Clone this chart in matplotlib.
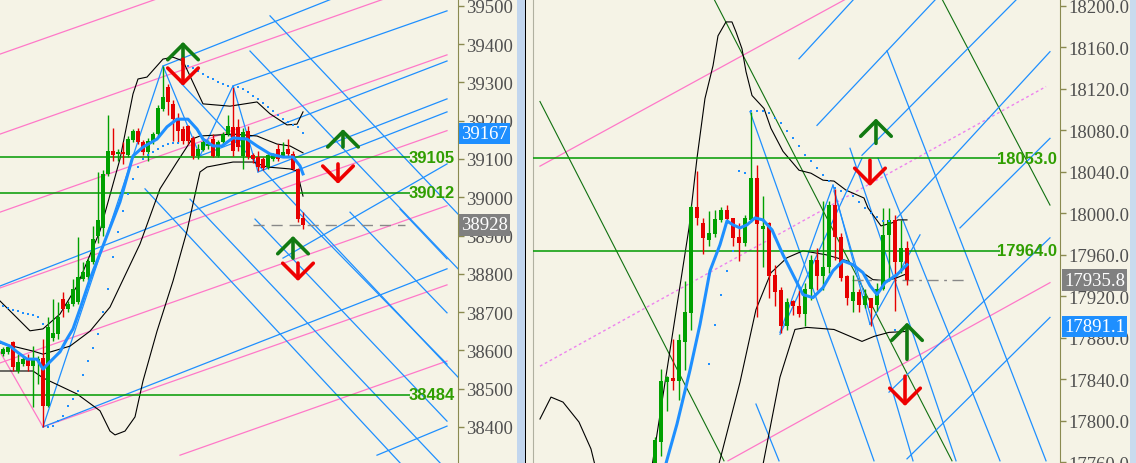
import matplotlib.pyplot as plt
import numpy as np
from matplotlib.patches import Rectangle

# ---------------- left panel (index futures, 5px per bar) ----------------
l_open = [38591, 38596, 38622, 38546, 38565, 38580, 38559, 38572, 38580, 38455,
          38632, 38643, 38734, 38708, 38721, 38727, 38787, 38792, 38831, 38899,
          38920, 39061, 39121, 39113, 39119, 39111, 39150, 39173, 39145, 39119,
          39145, 39166, 39231, 39288, 39244, 39205, 39179, 39186, 39155, 39108,
          39124, 39135, 39152, 39108, 39145, 39166, 39184, 39184, 39108, 39173,
          39111, 39105, 39100, 39079, 39100, 39126, 39108, 39126, 39113, 39074, 38946]
l_high = [38609, 38612, 38625, 38591, 38585, 38591, 38612, 38585, 38630, 38687,
          38734, 38727, 38753, 38730, 38787, 38896, 38830, 38840, 38925, 39066,
          39070, 39215, 39181, 39126, 39145, 39160, 39178, 39180, 39150, 39155,
          39170, 39240, 39343, 39295, 39255, 39220, 39185, 39190, 39160, 39140,
          39150, 39150, 39166, 39150, 39170, 39215, 39291, 39205, 39180, 39186,
          39115, 39121, 39105, 39115, 39115, 39140, 39145, 39152, 39120, 39077, 38962]
l_low = [38585, 38591, 38546, 38540, 38559, 38546, 38452, 38512, 38400, 38452,
         38625, 38630, 38687, 38700, 38715, 38720, 38780, 38785, 38825, 38880,
         38900, 39055, 39095, 39095, 39087, 39105, 39145, 39140, 39110, 39095,
         39140, 39160, 39225, 39215, 39147, 39145, 39140, 39140, 39100, 39100,
         39120, 39125, 39105, 39105, 39140, 39160, 39108, 39121, 39074, 39100,
         39090, 39069, 39070, 39075, 39095, 39095, 39105, 39108, 39070, 38935, 38917]
l_close = [38604, 38609, 38557, 38570, 38578, 38559, 38575, 38578, 38455, 38660,
           38645, 38687, 38708, 38721, 38760, 38792, 38805, 38834, 38891, 38941,
           39061, 39121, 39111, 39119, 39113, 39152, 39173, 39145, 39119, 39147,
           39166, 39233, 39262, 39249, 39205, 39173, 39147, 39147, 39108, 39126,
           39145, 39140, 39108, 39145, 39166, 39186, 39121, 39132, 39171, 39105,
           39100, 39079, 39077, 39111, 39111, 39100, 39119, 39113, 39074, 38943, 38928]

l_ema_x = [-0.6, 1.4, 2.8, 4.8, 6.8, 8, 9.4, 11.4, 12.8, 14, 15.4, 17.4, 20, 23.4, 26, 28,
           30.8, 32.8, 34.8, 37, 38.8, 40, 42, 43.8, 46, 48.8, 50.8, 53.4, 56, 58, 59.4, 60]
l_ema = [38622, 38611, 38596, 38577, 38577, 38551, 38570, 38596, 38630, 38656, 38708,
         38786, 38873, 38988, 39108, 39131, 39152, 39184, 39204, 39204, 39178, 39152,
         39134, 39134, 39155, 39152, 39134, 39113, 39105, 39105, 39082, 39061]

l_bb_up_x = [-0.6, 5.4, 8, 11.4, 14.8, 19.4, 23.4, 26, 27, 28.8, 32, 34, 36, 40, 45.4,
             50.8, 53.4, 56.8, 58.8, 60]
l_bb_up = [38729, 38651, 38656, 38695, 38768, 38912, 39100, 39270, 39309, 39314, 39361,
           39366, 39356, 39244, 39238, 39249, 39218, 39189, 39191, 39223]
l_bb_mid_x = [-0.6, 6, 8, 13.4, 17.4, 21.4, 27.4, 31.4, 34.8, 37.8, 39.4, 46, 50.8,
              54.8, 57.4, 60]
l_bb_mid = [38619, 38598, 38590, 38611, 38650, 38713, 38878, 39022, 39092, 39152, 39160,
            39165, 39160, 39139, 39134, 39116]
l_bb_low_x = [-0.6, 6, 8, 14.8, 19.4, 21.4, 22.4, 24.4, 26.4, 28, 30.8, 34, 36.8, 39.4,
              40.8, 46, 50, 52.8, 57.4, 58.8, 60]
l_bb_low = [38546, 38546, 38528, 38486, 38442, 38389, 38379, 38389, 38426, 38520, 38650,
            38781, 38912, 39066, 39079, 39092, 39092, 39079, 39074, 39069, 39003]

l_sar_x = list(range(0, 36)) + list(range(36, 61))
l_sar = [38716, 38711, 38705, 38703, 38698, 38695, 38693, 38687, 38669,
         38400, 38402, 38415, 38428, 38454, 38473, 38494, 38536, 38572, 38606, 38643,
         38700, 38760, 38844, 38909, 38964, 39008, 39048, 39079, 39100, 39110, 39118,
         39126, 39133, 39138, 39141, 39143,
         39348, 39343, 39338, 39330, 39322, 39314, 39309, 39301, 39296, 39291, 39288,
         39288, 39283, 39275, 39265, 39257, 39246, 39236, 39225, 39215, 39204, 39197,
         39189, 39184, 39168]

l_levels = [39105, 39012, 38484]
l_last = 38928
l_tag = 39167

l_zig_x = [8, 32, 39.4, 46, 51]
l_zig = [38400, 39343, 39108, 39291, 39066]
l_blue_segs = [(-0.6, 38768, 88.8, 39223), (8, 38400, 88.8, 38813), (32, 39343, 91, 39649),
               (46, 39291, 88.8, 39487), (39.4, 39108, 88.8, 39356), (51, 39066, 88.8, 39257),
               (56, 38841, 88.8, 39087), (74.8, 38326, 88.8, 38402),
               (35.4, 39301, 91, 38530), (49.4, 39382, 91, 38813), (53.4, 39474, 91, 38956),
               (28.4, 39022, 79.4, 38306), (37.4, 38995, 87.4, 38306), (50.4, 38943, 88.8, 38415),
               (59.4, 38956, 88.8, 38564), (69.4, 38961, 88.8, 38698), (79.4, 38969, 88.8, 38839)]
l_pink_segs = [(-0.6, 38596, 8, 38400),
               (-0.6, 39374, 88.8, 39785), (-0.6, 39165, 88.8, 39576), (-0.6, 38961, 88.8, 39372),
               (-0.6, 38763, 88.8, 39174), (-0.6, 38567, 88.8, 38978),
               (8, 38400, 88.8, 38771), (35.4, 38326, 88.8, 38572)]
# arrows: (bar, tail, head)
l_up_arrows = [(36, 39348, 39406), (68, 39131, 39178), (58, 38841, 38899)]
l_dn_arrows = [(36, 39361, 39291), (67, 39087, 39035), (59, 38828, 38781)]

# ---------------- right panel (6px per bar) ----------------
r_open = [17750, 17780, 17838, 17841, 17839, 17876, 17904, 18006, 17991, 17974, 17980,
          17994, 18003, 17996, 17977, 17972, 17994, 18034, 17985, 17991, 17941, 17926,
          17892, 17916, 17911, 17903, 17927, 17955, 17940, 17948, 18008, 17977, 17940,
          17916, 17924, 17912, 17919, 17912, 17927, 17979, 17994, 17953, 17967]
r_high = [17785, 17850, 17843, 17879, 17884, 17935, 18008, 18041, 17996, 18002, 18003,
          18006, 18008, 17996, 17991, 17999, 18098, 18047, 18017, 17992, 17950, 17929,
          17919, 17917, 17926, 17933, 17960, 17967, 18012, 18012, 18024, 17981, 17941,
          17941, 17927, 17927, 17919, 17933, 18005, 18005, 17999, 17994, 17973]
r_low = [17740, 17766, 17810, 17830, 17820, 17849, 17888, 17989, 17961, 17969, 17977,
         17992, 17991, 17969, 17954, 17969, 17992, 17900, 17948, 17919, 17911, 17885,
         17888, 17902, 17900, 17892, 17917, 17926, 17926, 17943, 17955, 17935, 17912,
         17905, 17905, 17909, 17892, 17906, 17926, 17935, 17906, 17943, 17931]
r_close = [17782, 17839, 17842, 17839, 17878, 17905, 18006, 17996, 17976, 17981, 17995,
           18003, 17995, 17976, 17972, 17996, 18034, 17990, 17988, 17940, 17924, 17892,
           17915, 17911, 17903, 17927, 17955, 17940, 17948, 18008, 17977, 17938, 17919,
           17924, 17912, 17920, 17909, 17927, 17979, 17994, 17953, 17967, 17935.8]

r_ema_x = [1.2, 2, 3.67, 5.83, 7.5, 9.17, 10.83, 12, 13, 14.17, 15.33, 16.67, 18, 19.5,
           21.33, 23, 24.67, 26.33, 28, 29.67, 31.33, 33, 34.67, 35.83, 37, 38.33, 40.33, 42]
r_ema = [17745, 17762.6, 17797.1, 17848.9, 17893.0, 17944.8, 17969.8, 17992.8, 17989.0,
         17986.1, 17989.0, 17995.7, 17993.8, 17984.2, 17960.2, 17941.0, 17921.8, 17918.9,
         17928.5, 17944.8, 17954.4, 17950.6, 17942.9, 17930.5, 17921.8, 17933.3, 17941.0,
         17950.6]

r_bb_up_x = [-0.8, 5.67, 7, 8.33, 9.67, 10.5, 11.83, 12.83, 13.5, 14.5, 15.17, 16.17,
             18.17, 19.33, 21.33, 24, 26, 28, 29.83, 31.83, 34.83, 35.5, 37.67, 39.5, 40.5, 42]
r_bb_up = [17745, 17986.1, 18053.2, 18110.8, 18142.4, 18171.2, 18184.6, 18184.6, 18175.0,
           18158.7, 18136.7, 18113.7, 18101.2, 18082.0, 18059.9, 18041.7, 18038.8, 18032.1,
           18031.2, 18022.5, 18014.9, 18005.3, 17988.0, 17990.9, 17993.8, 17993.8]
r_bb_mid_x = [10.5, 14.17, 16.83, 19.33, 22, 24.67, 28.5, 32, 34.17, 36.33, 38.67, 40.33, 42]
r_bb_mid = [17755, 17837.4, 17907.4, 17942.9, 17957.3, 17964.0, 17960.2, 17954.4, 17944.8,
            17936.2, 17935.2, 17938.1, 17942.0]
r_bb_low_x = [17.9, 20.83, 23.33, 25.33, 29.83, 34.5, 36.5, 39, 42]
r_bb_low = [17755, 17842.2, 17888.2, 17890.2, 17888.2, 17876.7, 17881.5, 17885.4, 17886.3]
r_old_x = [-19.17, -17.33, -15.33, -12.67, -10.67, -9.9]
r_old = [17801.9, 17823.0, 17818.2, 17799.0, 17773.1, 17755]

r_sar_x = list(range(9, 42))
r_sar = [17854.7, 17892.1, 17921.8, 17944.8, 17964.0, 18040.8, 18038.8, 18098.3, 18098.3,
         18098.3, 18096.4, 18091.6, 18086.8, 18079.1, 18072.4, 18064.7, 18056.1, 18050.3,
         18043.6, 18036.9, 18031.2, 18024.4, 18021.6, 18021.6, 18016.8, 18011.0, 18005.3,
         18000.5, 17996.6, 17992.8, 17992.8, 17887.3, 17887.3]

r_levels = [18053.0, 17964.0]
r_last = 17935.8
r_tag = 17891.1

r_blue_segs = [(24, 18149.1, 33.17, 18206.7), (27, 18084.9, 46.83, 18206.7),
               (34.5, 18056.1, 60.33, 18206.7), (40.33, 17995.7, 65.83, 18155.9),
               (50.83, 17986.1, 65.83, 18072.4), (39, 17827.8, 65.83, 17976.5),
               (42, 17763.5, 65.83, 17899.8),
               (20.83, 17885.4, 29.67, 18027.3), (29.67, 18027.3, 35.83, 17893.1),
               (35.83, 17893.1, 44.17, 17979.4), (34.5, 18053.2, 20.83, 17883.5),
               (15.83, 18098.3, 36.5, 17761.6), (38.67, 18156.8, 65.17, 17761.6),
               (32.5, 18062.8, 50.17, 17761.6), (29.83, 18021.6, 43, 17761.6),
               (16.83, 17816.3, 20.67, 17761.6), (37.17, 18053.2, 57.5, 17761.6)]
r_pink_segs = [(-19.17, 18045.6, 31.83, 18206.7), (12.17, 17761.6, 65.83, 17933.3)]
r_pink_dot = (-19.17, 17852.8, 65.17, 18122.3)
r_green_segs = [(-19.17, 18107.9, 11.5, 17761.6), (9.83, 18206.7, 49.5, 17761.6),
                (47.83, 18206.7, 65.83, 18008.1)]
r_up_arrows = [(36.83, 18067.6, 18091.6), (42, 17859.5, 17894.9)]
r_dn_arrows = [(35.83, 18051.3, 18026.4), (41.67, 17843.2, 17814.4)]

# ---------------- drawing ----------------
BG = '#f5f3e6'
UP = '#00a000'
DN = '#e60000'
BLUE = '#1e8fff'
PINK = '#ff78c8'
LVL = '#009900'
AXC = '#8a8a50'
W, H = 1136, 464

plt.rcParams['font.family'] = ['Liberation Serif', 'DejaVu Serif']

fig = plt.figure(figsize=(W / 100, H / 100), dpi=100, facecolor=BG)
axL = fig.add_axes([0, 0, 458 / W, 1])
axR = fig.add_axes([533 / W, 0, (1060 - 533) / W, 1])


def candles(ax, o, h, l, c, width):
    x = np.arange(len(o))
    o, h, l, c = map(np.asarray, (o, h, l, c))
    col = np.where(c > o, UP, DN)
    ax.vlines(x, l, h, colors=col, lw=1.0, zorder=4)
    span = ax.get_ylim()[1] - ax.get_ylim()[0]
    ax.bar(x, np.maximum(np.abs(c - o), span * 0.004), width, np.minimum(o, c),
           color=col, lw=0, zorder=5)


def segs(ax, lines, color, lw=0.9, ls='-'):
    for x1, y1, x2, y2 in lines:
        ax.plot([x1, x2], [y1, y2], color=color, lw=lw, ls=ls, zorder=2)


def frame(ax, xlim, ylim, ticks, fmt):
    ax.set_facecolor(BG)
    ax.set_xlim(*xlim)
    ax.set_ylim(*ylim)
    ax.set_xticks([])
    ax.yaxis.tick_right()
    ax.set_yticks(ticks)
    ax.set_yticklabels([fmt.format(t) for t in ticks], fontsize=13.5, color='#505050')
    ax.tick_params(axis='y', direction='out', length=4, width=1, color=AXC, pad=2)
    for s in ['top', 'bottom', 'left']:
        ax.spines[s].set_visible(False)
    ax.spines['right'].set_color(AXC)


def arrows(ax, ups, dns):
    for lst, col in ((ups, '#117a11'), (dns, '#ee0000')):
        for x, tail, head in lst:
            ax.annotate('', xy=(x, head), xytext=(x, tail),
                        arrowprops=dict(arrowstyle='->,head_length=0.55,head_width=0.55',
                                        lw=2.6, color=col, mutation_scale=20,
                                        shrinkA=0, shrinkB=0), zorder=8)


def tag(ax, y, text, fc, xoff):
    ax.text(1 + xoff, y, text, transform=ax.get_yaxis_transform(), ha='left', va='center',
            fontsize=13.5, color='white', zorder=10, clip_on=False,
            bbox=dict(boxstyle='square,pad=0.12', fc=fc, ec='none'))


# left
frame(axL, (-0.6, 91), (38305.6, 39518), np.arange(38400, 39501, 100), '{:.0f}')
candles(axL, l_open, l_high, l_low, l_close, 0.62)
segs(axL, l_pink_segs, PINK)
segs(axL, l_blue_segs, BLUE)
axL.plot(l_zig_x, l_zig, color=BLUE, lw=0.9, zorder=2)
axL.plot(l_bb_up_x, l_bb_up, color='black', lw=0.8, zorder=3)
axL.plot(l_bb_mid_x, l_bb_mid, color='black', lw=0.8, zorder=3)
axL.plot(l_bb_low_x, l_bb_low, color='black', lw=0.8, zorder=3)
axL.plot(l_ema_x, l_ema, color=BLUE, lw=2.2, zorder=6)
axL.plot(l_sar_x, l_sar, 's', color=BLUE, ms=2, mew=0, zorder=6)
axL.hlines(l_levels, -0.6, 81.4, color=LVL, lw=1.1, zorder=3)
for v in l_levels:
    axL.text(90.4, v, f'{v:.0f}', ha='right', va='center', fontsize=12, fontweight='bold',
             family='Liberation Sans', color='#2f9e00', zorder=9)
axL.hlines(l_last, 50, 80.4, color='#888888', lw=1, linestyles=(0, (8, 5)), zorder=3)
arrows(axL, l_up_arrows, l_dn_arrows)
tag(axL, l_tag, f'{l_tag:.0f}', '#1e8fff', 3 / 458)
tag(axL, l_last, f'{l_last:.0f}', '#808080', 3 / 458)

# right
frame(axR, (-20.33, 67.5), (17759.5, 18206.7), np.arange(17760, 18201, 40), '{:.1f}')
axR.spines['left'].set_visible(True)
axR.spines['left'].set_color('#b0b0a0')
candles(axR, r_open, r_high, r_low, r_close, 0.75)
segs(axR, r_pink_segs, PINK)
axR.plot(r_pink_dot[::2], r_pink_dot[1::2], color='#ee82ee', lw=1, ls=(0, (2, 2)), zorder=2)
segs(axR, r_green_segs, '#107010', lw=0.8)
segs(axR, r_blue_segs, BLUE)
axR.plot(r_old_x, r_old, color='black', lw=0.8, zorder=3)
axR.plot(r_bb_up_x, r_bb_up, color='black', lw=0.8, zorder=3)
axR.plot(r_bb_mid_x, r_bb_mid, color='black', lw=0.8, zorder=3)
axR.plot(r_bb_low_x, r_bb_low, color='black', lw=0.8, zorder=3)
axR.plot(r_ema_x, r_ema, color=BLUE, lw=2.2, zorder=6)
axR.plot(r_sar_x, r_sar, 's', color=BLUE, ms=2, mew=0, zorder=6)
axR.hlines(r_levels, -20.33, 57.5, color=LVL, lw=1.1, zorder=3)
for v in r_levels:
    axR.text(67, v, f'{v:.1f}', ha='right', va='center', fontsize=12, fontweight='bold',
             family='Liberation Sans', color='#2f9e00', zorder=9)
axR.hlines(r_last, 32.8, 52.2, color='#888888', lw=1, linestyles=(0, (8, 4, 2, 4)), zorder=3)
arrows(axR, r_up_arrows, r_dn_arrows)
tag(axR, r_last, f'{r_last:.1f}', '#808080', 4 / 527)
tag(axR, r_tag, f'{r_tag:.1f}', '#1e8fff', 4 / 527)

# window separator and right edge strip
fig.add_artist(Rectangle((517 / W, 0), 9 / W, 1, transform=fig.transFigure, color='#c2d6ee', lw=0))
fig.add_artist(Rectangle((525 / W, 0), 1.3 / W, 1, transform=fig.transFigure, color='black', lw=0))
fig.add_artist(Rectangle((1130 / W, 0), 6 / W, 1, transform=fig.transFigure, color='#c9dbee', lw=0))

fig.savefig('out.png', dpi=100, facecolor=BG)
